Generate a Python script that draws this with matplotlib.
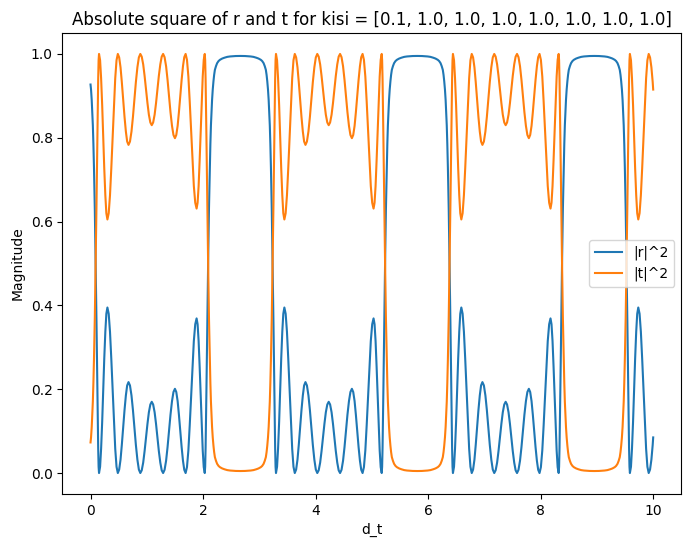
import matplotlib
matplotlib.use("Agg")
import matplotlib.pyplot as plt

title = "Absolute square of r and t for kisi = [0.1, 1.0, 1.0, 1.0, 1.0, 1.0, 1.0, 1.0]"
labels = ["|r|^2", "|t|^2"]

# ---- leading segment (tail of a stop band) ----
d_lead = [0.000, 0.009, 0.021, 0.031, 0.041, 0.051, 0.061, 0.076, 0.091, 0.106, 0.121, 0.136, 0.1435]
r_lead = [0.927, 0.915, 0.89, 0.862, 0.83, 0.785, 0.73, 0.63, 0.50, 0.36, 0.20, 0.06, 0.015]
t_lead = [0.073, 0.085, 0.11, 0.138, 0.17, 0.215, 0.27, 0.37, 0.50, 0.64, 0.80, 0.94, 0.985]

# ---- |r|^2 and |t|^2 through one period: five pass-band bumps, then the stop band ----
r_b1 = [0, 0.015, 0.058, 0.122, 0.198, 0.273, 0.337, 0.380, 0.395, 0.380, 0.337, 0.273, 0.198, 0.122, 0.058, 0.015]
r_b2 = [0, 0.0083, 0.0318, 0.067, 0.1085, 0.150, 0.185, 0.209, 0.217, 0.209, 0.185, 0.150, 0.1085, 0.067, 0.0318, 0.0083]
r_b3 = [0, 0.0065, 0.0249, 0.0525, 0.085, 0.1175, 0.145, 0.1635, 0.170, 0.1635, 0.145, 0.1175, 0.085, 0.0525, 0.0249, 0.0065]
r_b4 = [0, 0.0077, 0.0294, 0.062, 0.1005, 0.139, 0.1716, 0.1933, 0.201, 0.1933, 0.1716, 0.139, 0.1005, 0.062, 0.0294, 0.0077]
r_b5 = [0, 0.0141, 0.054, 0.1139, 0.1845, 0.255, 0.315, 0.355, 0.369, 0.355, 0.315, 0.255, 0.1845, 0.1139, 0.054, 0.0141]
r_gap = [0, 0.015, 0.06, 0.20, 0.36, 0.50, 0.63, 0.73, 0.785, 0.83, 0.862, 0.89, 0.915, 0.935, 0.950, 0.962,
         0.971, 0.978, 0.983, 0.986, 0.989, 0.991, 0.993, 0.994, 0.995, 0.9952,
         0.995, 0.994, 0.993, 0.991, 0.989, 0.986, 0.983, 0.978, 0.971, 0.962, 0.950, 0.935, 0.915, 0.89,
         0.862, 0.83, 0.785, 0.73, 0.63, 0.50, 0.36, 0.20, 0.06, 0.015]

t_b1 = [1, 0.985, 0.942, 0.878, 0.802, 0.727, 0.663, 0.620, 0.605, 0.620, 0.663, 0.727, 0.802, 0.878, 0.942, 0.985]
t_b2 = [1, 0.9917, 0.9682, 0.933, 0.8915, 0.850, 0.815, 0.791, 0.783, 0.791, 0.815, 0.850, 0.8915, 0.933, 0.9682, 0.9917]
t_b3 = [1, 0.9935, 0.9751, 0.9475, 0.915, 0.8825, 0.855, 0.8365, 0.830, 0.8365, 0.855, 0.8825, 0.915, 0.9475, 0.9751, 0.9935]
t_b4 = [1, 0.9923, 0.9706, 0.938, 0.8995, 0.861, 0.8284, 0.8067, 0.799, 0.8067, 0.8284, 0.861, 0.8995, 0.938, 0.9706, 0.9923]
t_b5 = [1, 0.9859, 0.946, 0.8861, 0.8155, 0.745, 0.685, 0.645, 0.631, 0.645, 0.685, 0.745, 0.8155, 0.8861, 0.946, 0.9859]
t_gap = [1, 0.985, 0.94, 0.80, 0.64, 0.50, 0.37, 0.27, 0.215, 0.17, 0.138, 0.11, 0.085, 0.065, 0.050, 0.038,
         0.029, 0.022, 0.017, 0.014, 0.011, 0.009, 0.007, 0.006, 0.005, 0.0048,
         0.005, 0.006, 0.007, 0.009, 0.011, 0.014, 0.017, 0.022, 0.029, 0.038, 0.050, 0.065, 0.085, 0.11,
         0.138, 0.17, 0.215, 0.27, 0.37, 0.50, 0.64, 0.80, 0.94, 0.985]

r_period = r_b1 + r_b2 + r_b3 + r_b4 + r_b5 + r_gap
t_period = t_b1 + t_b2 + t_b3 + t_b4 + t_b5 + t_gap

d_p1 = [0.151, 0.170, 0.188, 0.207, 0.226, 0.244, 0.263, 0.281, 0.300, 0.323, 0.346, 0.369, 0.393, 0.416, 0.439, 0.462,
        0.485, 0.509, 0.533, 0.556, 0.580, 0.604, 0.628, 0.651, 0.675, 0.701, 0.728, 0.754, 0.780, 0.806, 0.833, 0.859,
        0.885, 0.910, 0.936, 0.961, 0.986, 1.012, 1.037, 1.063, 1.088, 1.113, 1.139, 1.164, 1.189, 1.214, 1.240, 1.265,
        1.290, 1.316, 1.343, 1.369, 1.395, 1.421, 1.448, 1.474, 1.500, 1.524, 1.548, 1.571, 1.595, 1.619, 1.643, 1.666,
        1.690, 1.714, 1.739, 1.763, 1.788, 1.812, 1.836, 1.861, 1.885, 1.903, 1.921, 1.939, 1.958, 1.976, 1.994, 2.012,
        2.030, 2.0375, 2.045, 2.060, 2.075, 2.090, 2.105, 2.120, 2.130, 2.140, 2.150, 2.160, 2.172, 2.185, 2.197, 2.210,
        2.230, 2.250, 2.275, 2.300, 2.340, 2.380, 2.430, 2.480, 2.580, 2.663,
        2.746, 2.846, 2.896, 2.946, 2.986, 3.026, 3.051, 3.076, 3.096, 3.116, 3.129, 3.141, 3.154, 3.166,
        3.176, 3.186, 3.196, 3.206, 3.221, 3.236, 3.251, 3.266, 3.281, 3.2885]
d_p2 = [3.296, 3.315, 3.333, 3.352, 3.371, 3.389, 3.408, 3.426, 3.445, 3.468, 3.491, 3.514, 3.538, 3.561, 3.584, 3.607,
        3.630, 3.654, 3.678, 3.701, 3.725, 3.749, 3.773, 3.796, 3.820, 3.846, 3.873, 3.899, 3.925, 3.951, 3.978, 4.004,
        4.030, 4.055, 4.081, 4.106, 4.131, 4.157, 4.182, 4.208, 4.233, 4.258, 4.284, 4.309, 4.334, 4.359, 4.385, 4.410,
        4.435, 4.461, 4.488, 4.514, 4.540, 4.566, 4.593, 4.619, 4.645, 4.669, 4.693, 4.716, 4.740, 4.764, 4.788, 4.811,
        4.835, 4.859, 4.884, 4.908, 4.933, 4.957, 4.981, 5.006, 5.030, 5.048, 5.066, 5.084, 5.103, 5.121, 5.139, 5.157,
        5.175, 5.1825, 5.190, 5.205, 5.220, 5.235, 5.250, 5.265, 5.275, 5.285, 5.295, 5.305, 5.317, 5.330, 5.342, 5.355,
        5.375, 5.395, 5.420, 5.445, 5.485, 5.525, 5.575, 5.625, 5.725, 5.808,
        5.891, 5.991, 6.041, 6.091, 6.131, 6.171, 6.196, 6.221, 6.241, 6.261, 6.274, 6.286, 6.299, 6.311,
        6.321, 6.331, 6.341, 6.351, 6.366, 6.381, 6.396, 6.411, 6.426, 6.4335]
d_p3 = [6.441, 6.460, 6.478, 6.497, 6.516, 6.534, 6.553, 6.571, 6.590, 6.613, 6.636, 6.659, 6.683, 6.706, 6.729, 6.752,
        6.775, 6.799, 6.823, 6.846, 6.870, 6.894, 6.918, 6.941, 6.965, 6.991, 7.018, 7.044, 7.070, 7.096, 7.123, 7.149,
        7.175, 7.200, 7.226, 7.251, 7.276, 7.302, 7.327, 7.353, 7.378, 7.403, 7.429, 7.454, 7.479, 7.504, 7.530, 7.555,
        7.580, 7.606, 7.633, 7.659, 7.685, 7.711, 7.738, 7.764, 7.790, 7.814, 7.838, 7.861, 7.885, 7.909, 7.933, 7.956,
        7.980, 8.004, 8.029, 8.053, 8.078, 8.102, 8.126, 8.151, 8.175, 8.193, 8.211, 8.229, 8.248, 8.266, 8.284, 8.302,
        8.320, 8.3275, 8.335, 8.350, 8.365, 8.380, 8.395, 8.410, 8.420, 8.430, 8.440, 8.450, 8.462, 8.475, 8.487, 8.500,
        8.520, 8.540, 8.565, 8.590, 8.630, 8.670, 8.720, 8.770, 8.870, 8.953,
        9.036, 9.136, 9.186, 9.236, 9.276, 9.316, 9.341, 9.366, 9.386, 9.406, 9.419, 9.431, 9.444, 9.456,
        9.466, 9.476, 9.486, 9.496, 9.511, 9.526, 9.541, 9.556, 9.571, 9.5785]

# ---- trailing segment (start of the next pass band) ----
d_tail = [9.586, 9.605, 9.623, 9.642, 9.661, 9.679, 9.698, 9.716, 9.735, 9.758, 9.781, 9.804, 9.828, 9.851, 9.874, 9.897,
          9.920, 9.944, 9.968, 9.991, 10.000]
r_tail = r_b1 + [0, 0.0083, 0.0318, 0.067, 0.085]
t_tail = t_b1 + [1, 0.9917, 0.9682, 0.933, 0.915]

d_t = d_lead + d_p1 + d_p2 + d_p3 + d_tail
r_sq = r_lead + r_period + r_period + r_period + r_tail
t_sq = t_lead + t_period + t_period + t_period + t_tail
assert len(d_t) == len(r_sq) == len(t_sq)

fig = plt.figure(figsize=(6.91, 5.47), dpi=100)
ax = fig.add_subplot(111)
fig.subplots_adjust(left=0.0903, right=0.986, bottom=0.0969, top=0.9397)

ax.plot(d_t, r_sq, label=labels[0])
ax.plot(d_t, t_sq, label=labels[1])
ax.set_title(title)
ax.set_xlabel("d_t")
ax.set_ylabel("Magnitude")
ax.legend(loc="center right")

fig.savefig("out.png", dpi=100)
